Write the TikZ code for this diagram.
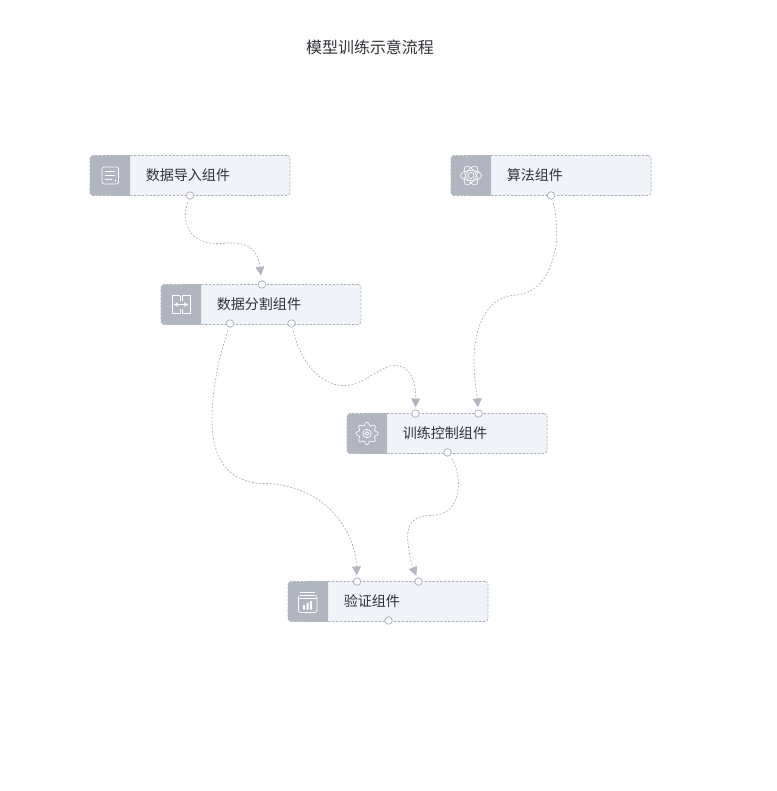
\documentclass[tikz,border=0pt]{standalone}
\usepackage{fontspec}
\setmainfont{Noto Sans CJK SC}
\usetikzlibrary{positioning,arrows.meta}
\definecolor{boxfill}{HTML}{F0F3F7}
\definecolor{boxline}{HTML}{A6ABB8}
\definecolor{iconfill}{HTML}{B1B5C0}
\definecolor{linkline}{HTML}{A9ACB6}
\definecolor{txtcol}{HTML}{2F3237}
\tikzset{
    flowbox/.style={draw=boxline,fill=boxfill,line width=0.35pt,dash pattern=on 1.3pt off 0.9pt,rounded corners=1.7pt,minimum width=4cm,minimum height=0.8cm,inner sep=0pt},
    iconbox/.style={fill=iconfill,rounded corners=1.7pt,minimum width=0.8cm,minimum height=0.8cm,inner sep=0pt},
    flowtxt/.style={text=txtcol,font=\fontsize{8}{10}\selectfont,inner sep=0pt},
    port/.style={circle,draw=boxline,fill=white,line width=0.4pt,minimum size=0.15cm,inner sep=0pt},
    link/.style={draw=linkline,line width=0.4pt,dash pattern=on 1pt off 1pt,shorten <=2pt},
    linkto/.style={link,-{Triangle[length=5pt,width=5pt,color=iconfill,fill=iconfill]},shorten >=1.2pt},
    icon/.style={draw=white,line width=0.38pt}
}
\begin{document}
\begin{tikzpicture}[x=0.02cm,y=-0.02cm]
    \useasboundingbox (0,-0.5) rectangle (777,790.5);

    \node (title) at (370,47) [text=txtcol,font=\fontsize{9.1}{11}\selectfont,inner sep=0pt] {模型训练示意流程};

    % the five components
    \foreach \n/\x/\y/\t in {
        dataimp/190/175/数据导入组件,
        algo/551/175/算法组件,
        split/261/304/数据分割组件,
        train/447/433/训练控制组件,
        verify/388/601/验证组件
    }{
        \node (\n) at (\x,\y) [flowbox] {};
        \node (\n i) at (\n.west) [iconbox,anchor=west] {};
        \fill [iconfill] (\n i.north) rectangle (\n i.south east);
        \node (\n t) [flowtxt,right=0.3cm of \n i] {\t};
    }

    % ports
    \node (dataimpb) at (190,195) [port] {};
    \node (algob) at (551,195) [port] {};
    \node (splitt) at (262,284) [port] {};
    \node (splitl) at (230,323) [port] {};
    \node (splitr) at (291.5,323) [port] {};
    \node (trainl) at (415.5,413) [port] {};
    \node (trainr) at (478.5,413) [port] {};
    \node (trainb) at (447.5,452) [port] {};
    \node (verifyl) at (357,581) [port] {};
    \node (verifyr) at (418.5,581) [port] {};
    \node (verifyb) at (388.5,620) [port] {};

    % connectors
    \draw [linkto,shorten >=2.8pt] (dataimpb) .. controls (183,215) and (183,245) .. (222,243)
        .. controls (250,240) and (258,250) .. (splitt);
    \draw [linkto] (splitr) .. controls (300,360) and (320,386) .. (345,385)
        .. controls (365,384) and (380,365) .. (395,365)
        .. controls (410,365) and (416,380) .. (trainl);
    \draw [linkto] (splitl) .. controls (218,360) and (212,390) .. (212,420)
        .. controls (212,460) and (230,483) .. (265,483)
        .. controls (320,484) and (355,525) .. (verifyl);
    \draw [linkto] (algob) .. controls (557,215) and (558,240) .. (555,250)
        .. controls (548,285) and (530,294) .. (512,295)
        .. controls (485,298) and (474,330) .. (474,360)
        .. controls (474,380) and (477,395) .. (trainr);
    \draw [linkto] (trainb) .. controls (461,472) and (466,515) .. (430,515)
        .. controls (412,515) and (406,525) .. (408,542)
        .. controls (409,552) and (411,562) .. (verifyr);

    % icons
    \draw [icon,rounded corners=1.2pt] (102,166.5) rectangle (118.5,183.5);
    \draw [icon] (105,171) -- (115,171) (105,175) -- (115,175) (105,179) -- (112,179);
    \fill [white] (115.5,180) circle (1);

    \draw [icon] (180,295) -- (172,295) -- (172,313) -- (180,313) (182,295) -- (190,295) -- (190,313) -- (182,313);
    \draw [icon] (180,295) -- (180,300) (182,295) -- (182,300) (180,308) -- (180,313) (182,308) -- (182,313);
    \draw [icon,<->,>={Stealth[length=2.4pt,width=2.6pt]}] (174,304) -- (188,304);

    \foreach \a in {0,60,120}{
        \draw [icon,rotate around={\a:(471,175)}] (471,175) ellipse (10.5 and 5);
    }
    \draw [icon] (471,175) circle (3);

    \draw [icon,smooth,samples=121,domain=0:360] plot ({367+(9.6+1.5*cos(8*\x))*cos(\x)},{433+(9.6+1.5*cos(8*\x))*sin(\x)});
    \draw [icon] (367,433) circle (4.2) (367,433) circle (1.8);

    \draw [icon,rounded corners=1.2pt] (298.5,595) rectangle (317,612);
    \draw [icon] (300,592) -- (315,592) (298.5,598) -- (317,598);
    \fill [white] (303,604.5) rectangle (305,609) (306.5,602.5) rectangle (308.5,609) (310,600.5) rectangle (312,609);
\end{tikzpicture}
\end{document}
